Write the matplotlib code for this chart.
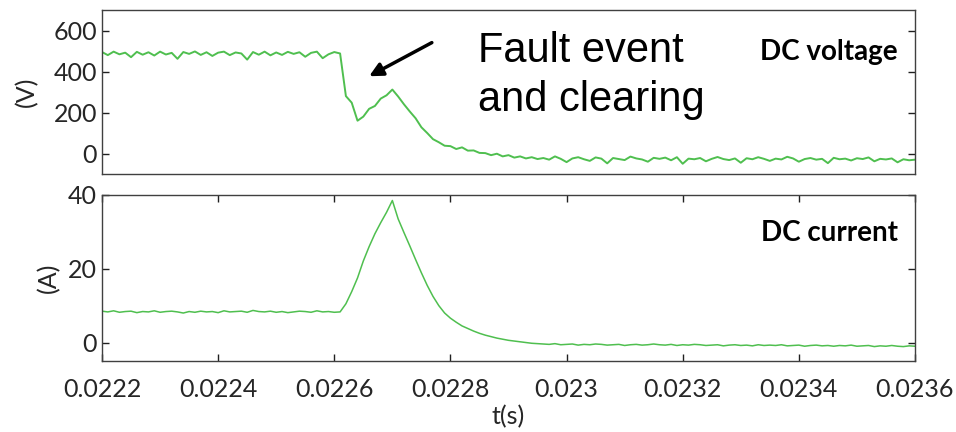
import matplotlib
matplotlib.use("Agg")
import matplotlib.pyplot as plt
import numpy as np

# sampled every 10 us starting at t0
t0 = 0.0222
dt = 0.00001

voltage = [
    495, 480, 497, 484, 492, 470, 496, 482, 494, 478,
    497, 483, 491, 462, 495, 486, 498, 481, 494, 476,
    492, 497, 480, 493, 488, 458, 495, 482, 497, 479,
    493, 481, 496, 486, 494, 472, 491, 497, 465, 484,
    495, 488,
    280, 248, 160, 180, 218, 232, 268, 284, 312, 278,
    240, 205, 172, 128, 100, 70, 55, 38, 36, 22,
    30, 14, 15, 3, 2, -8, -1, -14, -8, -20,
    -14, -24, -18, -27,
    -22, -30, -14, -26, -42, -24, -18, -28, -36, -19,
    -25, -48, -22, -27, -32, -15, -24, -29, -40, -21,
    -26, -20, -33, -18, -50, -25, -28, -22, -38, -26,
    -17, -27, -32, -24, -45, -23, -28, -18, -26, -36,
    -25, -29, -16, -24, -40, -27, -22, -30, -26, -47,
    -21, -28, -25, -34, -23, -27, -19, -38, -26, -29,
    -24, -43, -28, -33, -30,
]

current = [
    8.5, 8.3, 8.6, 8.2, 8.4, 8.5, 8.1, 8.4, 8.3, 8.6,
    8.2, 8.4, 8.5, 8.3, 8.0, 8.4, 8.2, 8.5, 8.3, 8.4,
    8.1, 8.6, 8.3, 8.4, 8.5, 8.2, 8.7, 8.4, 8.3, 8.5,
    8.2, 8.4, 8.1, 8.3, 8.5, 8.4, 8.2, 8.6, 8.3, 8.4,
    8.2, 8.3,
    10.5, 13.8, 17.5, 22.1, 26.0, 29.5, 32.5, 35.3, 38.5, 33.5,
    29.8, 26.2, 22.5, 18.9, 15.5, 12.5, 10.0, 8.0, 6.6, 5.5,
    4.5, 3.8, 3.1, 2.5, 2.0, 1.6, 1.2, 0.9, 0.6, 0.4,
    0.2, 0.0, -0.2, -0.3,
    -0.4, -0.5, -0.3, -0.6, -0.5, -0.4, -0.7, -0.5, -0.6, -0.4,
    -0.5, -0.7, -0.6, -0.5, -0.8, -0.6, -0.5, -0.7, -0.6, -0.4,
    -0.6, -0.7, -0.5, -0.8, -0.6, -0.7, -0.5, -0.6, -0.8, -0.7,
    -0.6, -0.9, -0.7, -0.6, -0.8, -0.7, -0.9, -0.6, -0.8, -0.7,
    -0.8, -0.6, -0.9, -0.8, -0.7, -1.0, -0.8, -0.7, -0.9, -0.8,
    -1.0, -0.8, -0.9, -0.7, -1.0, -0.9, -0.8, -1.1, -0.9, -1.0,
    -0.8, -1.0, -1.1, -0.9, -1.0,
]

xticks = [0.0222, 0.0224, 0.0226, 0.0228, 0.023, 0.0232, 0.0234, 0.0236]
xticklabels = ["0.0222", "0.0224", "0.0226", "0.0228", "0.023", "0.0232", "0.0234", "0.0236"]
v_ticks = [0, 200, 400, 600]
i_ticks = [0, 20, 40]

t = t0 + dt * np.arange(len(voltage))

green = "#4fbf4f"
tick_font = "Lato"
txt_col = "#262626"

fig = plt.figure(figsize=(9.56, 4.32), dpi=100)
ax1 = fig.add_axes([0.1067, 0.5972, 0.8504, 0.3796])
ax2 = fig.add_axes([0.1067, 0.1644, 0.8504, 0.3843])

ax1.plot(t, voltage, color=green, lw=1.4)
ax2.plot(t, current, color=green, lw=1.1)

for ax in (ax1, ax2):
    ax.set_xlim(0.0222, 0.0236)
    for s in ax.spines.values():
        s.set_color("#404040")
        s.set_linewidth(1.0)
    ax.tick_params(direction="in", length=5, width=1, color="#202020",
                   labelsize=18, labelcolor=txt_col,
                   right=True, top=True)

ax1.set_ylim(-100, 700)
ax1.set_yticks(v_ticks)
ax1.set_xticks([])
ax1.set_ylabel("(V)", fontsize=18, family=tick_font, color=txt_col, labelpad=11)

ax2.set_ylim(-5, 40)
ax2.set_yticks(i_ticks)
ax2.set_xticks(xticks)
ax2.set_xticklabels(xticklabels)
ax2.tick_params(axis="x", pad=12)
ax2.set_ylabel("(A)", fontsize=18, family=tick_font, color=txt_col, labelpad=6)
ax2.set_xlabel("t(s)", fontsize=18, family=tick_font, color=txt_col, labelpad=3)

for ax in (ax1, ax2):
    for lab in ax.get_yticklabels() + ax.get_xticklabels():
        lab.set_family(tick_font)

ax1.text(0.979, 0.744, "DC voltage", transform=ax1.transAxes, ha="right",
         va="center", fontsize=20, fontweight="bold", family=tick_font)
ax2.text(0.979, 0.771, "DC current", transform=ax2.transAxes, ha="right",
         va="center", fontsize=20, fontweight="bold", family=tick_font)

ax1.text(0.4625, 0.875, "Fault event\nand clearing", transform=ax1.transAxes,
         ha="left", va="top", fontsize=30, family="Liberation Sans",
         linespacing=1.3)
ax1.annotate("", xy=(0.02266, 377), xytext=(0.022768, 541),
             arrowprops=dict(arrowstyle="-|>,head_length=0.8,head_width=0.4",
                             color="black", lw=2.5, shrinkA=0, shrinkB=0))

fig.savefig("out.png", dpi=100)
